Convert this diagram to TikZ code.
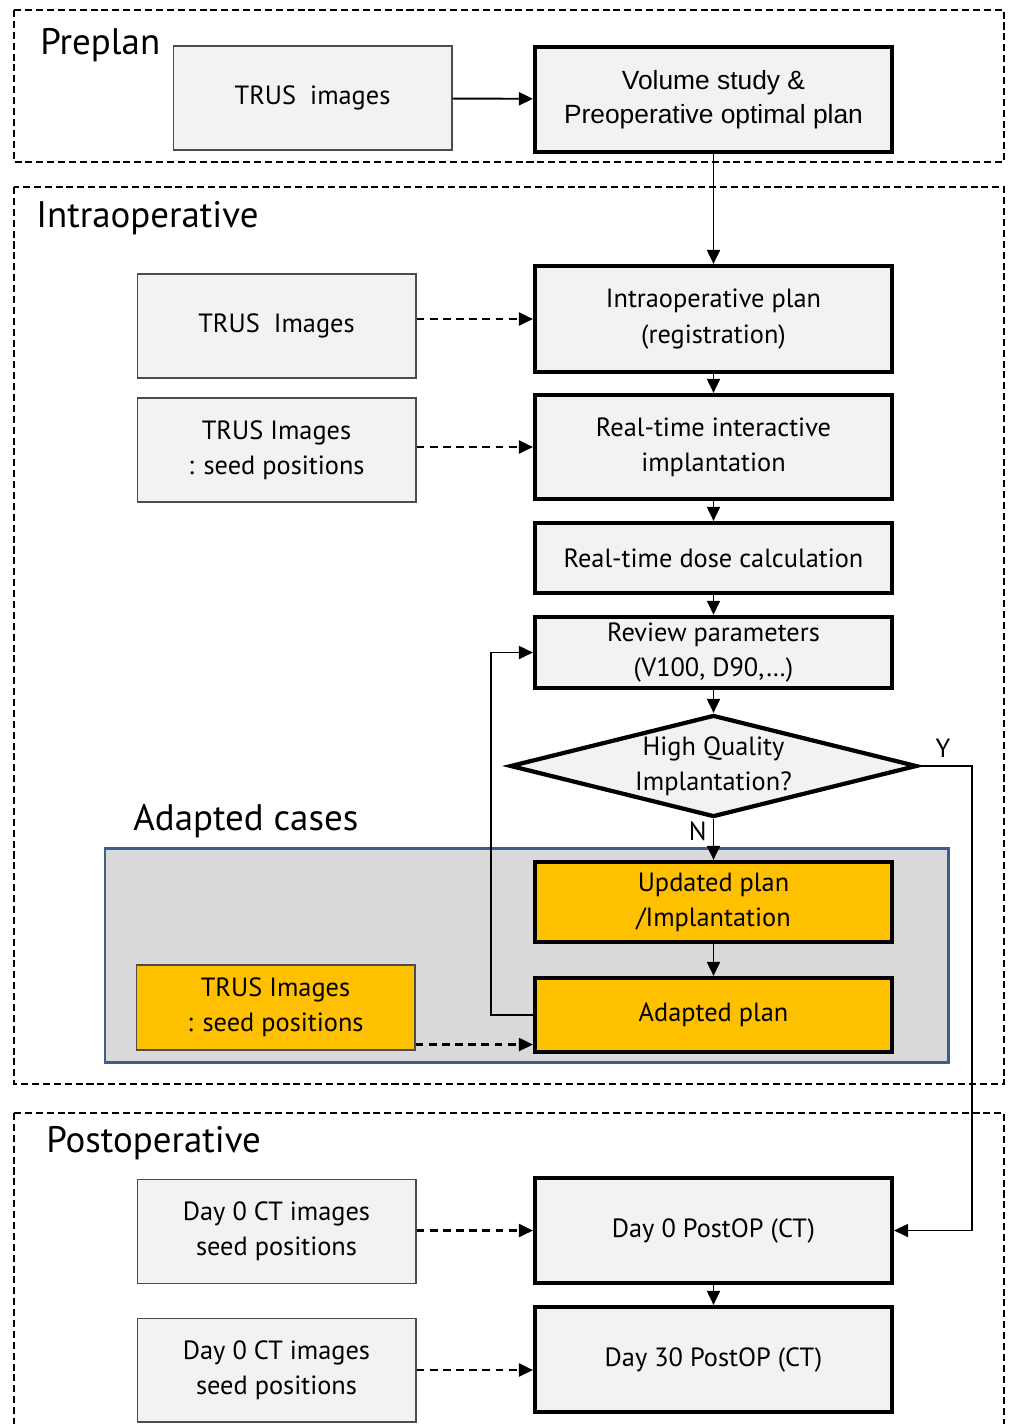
\documentclass[tikz,border=0pt]{standalone}
\usepackage{fontspec}
\setmainfont{PT Sans}
\newfontfamily\arialfont{Liberation Sans}
\usetikzlibrary{arrows.meta, shapes.geometric, positioning}

\definecolor{boxgray}{HTML}{F2F2F2}
\definecolor{amber}{HTML}{FFC000}
\definecolor{caseblue}{HTML}{3B5E8C}
\definecolor{casegray}{HTML}{D9D9D9}

\begin{document}
\begin{tikzpicture}[
        x=0.02cm, y=-0.02cm,
        >={Triangle[length=2.8mm,width=2.6mm]},
        every node/.style={font=\fontsize{15}{20}\selectfont},
        inbox/.style={
            draw=black!70,
            line width=0.6pt,
            fill=boxgray,
            minimum width=5.58cm,
            minimum height=2.08cm,
            align=center
        },
        mainbox/.style={
            draw,
            line width=2.4pt,
            fill=boxgray,
            minimum width=7.14cm,
            minimum height=2.1cm,
            align=center
        },
        decision/.style={
            diamond,
            draw,
            line width=2.4pt,
            fill=boxgray,
            shape aspect=4,
            minimum width=8.14cm,
            minimum height=2.04cm,
            inner sep=0pt,
            align=center
        },
        phase/.style={draw, line width=1.1pt, dash pattern=on 4pt off 2.2pt},
        phasetitle/.style={anchor=base west, inner sep=0pt, font=\fontsize{21}{24}\selectfont},
        arr/.style={->, line width=1.1pt},
        dasharr/.style={->, line width=1.2pt, dash pattern=on 4.5pt off 3pt}
    ]
    \clip (0,0) rectangle (1009,1424);

    % phase frames
    \draw[phase] (14,10) rectangle (1004,162);
    \draw[phase] (14,187) rectangle (1004,1084);
    \draw[phase] (14,1113) rectangle (1004,1450);
    \draw[caseblue, line width=1.7pt, fill=casegray] (105,848) rectangle (948,1062);

    \node[phasetitle] (preplan) at (40,54) {Preplan};
    \node[phasetitle] (intraop) at (36,227) {Intraoperative};
    \node[phasetitle] (cases) at (133,830) {Adapted cases};
    \node[phasetitle] (postop) at (46,1152) {Postoperative};

    % preplan
    \node[inbox] (trusA) at (312.5,98) {TRUS~~images};
    \node[mainbox, font=\arialfont\fontsize{15}{19}\selectfont] (vol) at (713.5,99.5) {
        Volume study \&\\
        Preoperative optimal plan
    };

    % intraoperative column
    \node[mainbox, minimum height=2.12cm] (intra) at (713.5,319) {
        Intraoperative plan\\
        (registration)
    };
    \node[mainbox, minimum height=2.08cm] (rtimpl) at (713.5,447) {
        Real-time interactive\\
        implantation
    };
    \node[mainbox, minimum height=1.4cm] (dose) at (713.5,558) {Real-time dose calculation};
    \node[mainbox, minimum height=1.42cm] (review) at (713.5,652.5) {
        Review parameters\\
        (V100, D90,\dots)
    };
    \node[decision] (hq) at (713.5,766) {
        High Quality\\
        Implantation?
    };
    \node[mainbox, fill=amber, minimum height=1.6cm] (updated) at (713.5,902) {
        Updated plan\\
        /Implantation
    };
    \node[mainbox, fill=amber, minimum height=1.48cm] (adapt) at (713.5,1015) {Adapted plan};

    \node[inbox] (trusB) at (276.5,326) {TRUS~~Images};
    \node[inbox] (seedB) at (276.5,450) {
        TRUS Images\\
        : seed positions
    };
    \node[inbox, fill=amber, minimum height=1.7cm] (seedC) at (275.5,1007.5) {
        TRUS Images\\
        : seed positions
    };

    % postoperative
    \node[mainbox] (day0) at (713.5,1230.5) {Day 0 PostOP (CT)};
    \node[mainbox] (day30) at (713.5,1359.5) {Day 30 PostOP (CT)};
    \node[inbox] (ctA) at (276.5,1231.5) {
        Day 0 CT images\\
        seed positions
    };
    \node[inbox] (ctB) at (276.5,1370) {
        Day 0 CT images\\
        seed positions
    };

    % connectors
    \draw[arr] (trusA) -- (vol);
    \draw[arr] (vol) -- (intra);
    \draw[arr] (intra) -- (rtimpl);
    \draw[arr] (rtimpl) -- (dose);
    \draw[arr] (dose) -- (review);
    \draw[arr] (review) -- (hq);
    \draw[arr] (hq) -- node[left, pos=0.3] (no) {N} (updated);
    \draw[arr] (updated) -- (adapt);
    \draw[arr] (adapt.west) -- ++(-42,0) |- (review.west);
    \draw[arr] (hq.east) -- ++(53,0) |- (day0.east);
    \node (yes) at (943,748) {Y};
    \draw[arr] (day0) -- (day30);

    \draw[dasharr] (trusB.east |- intra.west) -- (intra.west);
    \draw[dasharr] (seedB.east |- rtimpl.west) -- (rtimpl.west);
    \draw[dasharr] ([yshift=1.2mm]seedC.south east) -- ([yshift=1.2mm]seedC.south east -| adapt.west);
    \draw[dasharr] (ctA.east |- day0.west) -- (day0.west);
    \draw[dasharr] (ctB.east) -- (ctB.east -| day30.west);
\end{tikzpicture}
\end{document}
